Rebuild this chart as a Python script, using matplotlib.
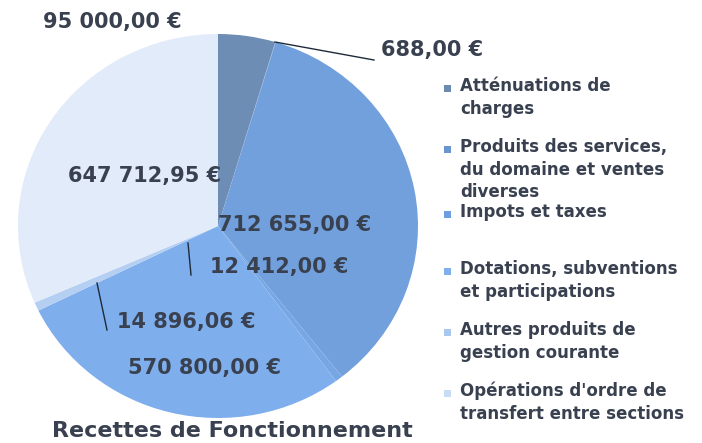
import matplotlib
matplotlib.use("Agg")
import matplotlib.pyplot as plt
from matplotlib.patches import Rectangle
from matplotlib.lines import Line2D

# slice values, clockwise from 12 o'clock
values = [95000.00, 688.00, 712655.00, 12412.00, 570800.00, 14896.06, 647712.95]
slice_colors = ['#6e8db5', '#6f9bd6', '#72a0dc', '#76a6e3', '#7eaeec', '#b4cff2', '#e2ebf9']

legend_labels = [
    "Atténuations de\ncharges",
    "Produits des services,\ndu domaine et ventes\ndiverses",
    "Impots et taxes",
    "Dotations, subventions\net participations",
    "Autres produits de\ngestion courante",
    "Opérations d'ordre de\ntransfert entre sections",
]
legend_colors = ['#6a8ab0', '#6a96cf', '#6e9de0', '#7fb0ec', '#a8c8f0', '#c8dcf5']

title = "Recettes de Fonctionnement"

# label positions (pixel centres) for each slice value
label_pos = [(112, 22), (432, 50), (295, 225), (279, 267), (205, 368), (186, 322), (145, 176)]
leaders = {1: [(275, 42), (374, 60)], 3: [(188, 243), (191, 275)], 5: [(97, 283), (107, 330)]}

W, H = 702, 443
TXT = '#394150'


def px(x, y):
    return x / W, 1 - y / H


def euro(v):
    return f"{v:,.2f}".replace(",", " ").replace(".", ",") + " €"


fig = plt.figure(figsize=(W / 100, H / 100), dpi=100)
fig.patch.set_facecolor('white')

cx, cy, rx, ry = 218, 226, 200, 192
ax = fig.add_axes([(cx - rx) / W, 1 - (cy + ry) / H, 2 * rx / W, 2 * ry / H])
ax.pie(values, colors=slice_colors, startangle=90, counterclock=False,
       wedgeprops=dict(linewidth=0))
ax.set_aspect('auto')
ax.set_xlim(-1, 1)
ax.set_ylim(-1, 1)
ax.axis('off')

for v, (x, y) in zip(values, label_pos):
    fig.text(*px(x, y), euro(v), ha='center', va='center', fontsize=15,
             fontweight='bold', color=TXT)

for pts in leaders.values():
    xs = [px(*p)[0] for p in pts]
    ys = [px(*p)[1] for p in pts]
    fig.add_artist(Line2D(xs, ys, color='#1e2a3a', linewidth=1.0))

fig.text(*px(232, 431), title, ha='center', va='center', fontsize=16,
         fontweight='bold', color=TXT)

# legend, evenly spaced entries like the original
for i, (lab, col) in enumerate(zip(legend_labels, legend_colors)):
    y0 = 88 + i * 61 + (4 if i == 2 else 0)
    fx, fy = px(444, y0 + 4)
    fig.add_artist(Rectangle((fx, fy), 7 / W, 7 / H, transform=fig.transFigure,
                             facecolor=col, edgecolor='none'))
    fig.text(*px(460, y0 - 11), lab, ha='left', va='top', fontsize=12,
             fontweight='bold', color=TXT, linespacing=1.33)

fig.savefig("out.png", dpi=100)
